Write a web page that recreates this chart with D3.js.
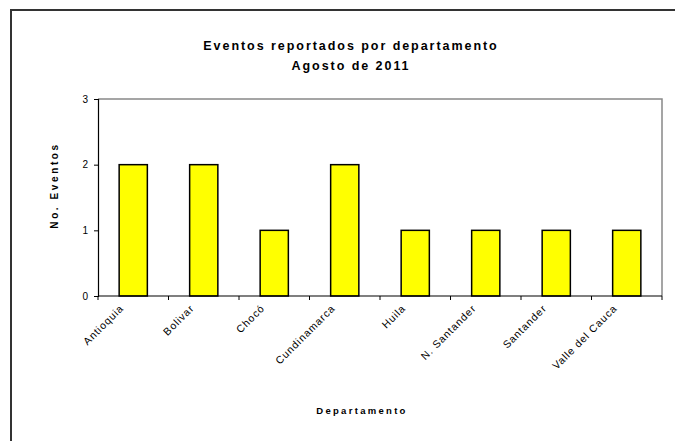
<!DOCTYPE html>
<html>
<head>
<meta charset="utf-8">
<script src="https://cdn.jsdelivr.net/npm/d3@7"></script>
<style>
  body { margin: 0; background: #fff; }
  text { font-family: "Liberation Sans", Arial, sans-serif; fill: #000; }
</style>
</head>
<body>
<svg id="chart" width="675" height="441"></svg>
<script>
// data
var departamentos = ["Antioquia", "Bolivar", "Chocó", "Cundinamarca", "Huila", "N. Santander", "Santander", "Valle del Cauca"];
var eventos = [2, 2, 1, 2, 1, 1, 1, 1];
var yTicks = [0, 1, 2, 3];
var titulo = ["Eventos reportados por departamento", "Agosto de 2011"];

var data = departamentos.map(function(d, i) { return {dep: d, n: eventos[i]}; });

var margin = {top: 99, right: 13, bottom: 145, left: 98},
    width = 675 - margin.left - margin.right,
    height = 441 - margin.top - margin.bottom;

var svg = d3.select("#chart");

// outer frame of the chart
svg.append("rect")
  .attr("x", 11).attr("y", 10)
  .attr("width", 700).attr("height", 500)
  .attr("fill", "none")
  .attr("stroke", "#333")
  .attr("stroke-width", 2);

// title
svg.append("text")
  .attr("text-anchor", "middle")
  .attr("font-weight", "bold")
  .attr("font-size", 12.5)
  .attr("letter-spacing", 1.95)
  .selectAll("tspan")
  .data(titulo)
  .enter().append("tspan")
    .attr("x", 351)
    .attr("y", function(d, i) { return 50 + i * 20; })
    .text(function(d) { return d; });

var g = svg.append("g")
  .attr("transform", "translate(" + margin.left + "," + margin.top + ")");

var x = d3.scaleBand()
  .domain(departamentos)
  .range([0, width])
  .paddingInner(0.6)
  .paddingOuter(0.3);

var y = d3.scaleLinear()
  .domain([0, 3])
  .range([height, 0]);

// gray plot frame (top and right)
g.append("path")
  .attr("d", "M0,0H" + width + "V" + height)
  .attr("fill", "none")
  .attr("stroke", "#888")
  .attr("stroke-width", 1.5);

// bars
g.selectAll("rect.bar")
  .data(data)
  .enter()
  .append("rect")
    .attr("class", "bar")
    .attr("x", function(d) { return x(d.dep); })
    .attr("y", function(d) { return y(d.n); })
    .attr("width", x.bandwidth())
    .attr("height", function(d) { return height - y(d.n); })
    .attr("fill", "#ffff00")
    .attr("stroke", "#000")
    .attr("stroke-width", 1.5);

// Y axis
var yAxis = g.append("g")
  .call(d3.axisLeft(y).tickValues(yTicks).tickFormat(d3.format("d")).tickSize(4).tickPadding(6));
yAxis.selectAll("text").attr("font-size", 10).attr("font-family", "Liberation Sans, Arial, sans-serif");
yAxis.select(".domain").attr("stroke-width", 1.2);

// X axis: ticks on category boundaries
var xAxis = g.append("g")
  .attr("transform", "translate(0," + height + ")");
xAxis.append("line")
  .attr("x1", 0).attr("x2", width)
  .attr("stroke", "#000").attr("stroke-width", 1.2);
xAxis.selectAll("line.tick")
  .data(d3.range(departamentos.length + 1))
  .enter().append("line")
    .attr("class", "tick")
    .attr("x1", function(i) { return i * width / departamentos.length; })
    .attr("x2", function(i) { return i * width / departamentos.length; })
    .attr("y1", 0).attr("y2", 4)
    .attr("stroke", "#000");

xAxis.selectAll("text.lab")
  .data(departamentos)
  .enter().append("text")
    .attr("class", "lab")
    .attr("text-anchor", "end")
    .attr("font-size", 10.5)
    .attr("letter-spacing", 0.9)
    .attr("transform", function(d) {
      return "translate(" + (x(d) + x.bandwidth() / 2 - 9) + ",13) rotate(-45)";
    })
    .text(function(d) { return d; });

// axis titles
g.append("text")
  .attr("text-anchor", "middle")
  .attr("font-weight", "bold")
  .attr("font-size", 10)
  .attr("letter-spacing", 2.6)
  .attr("transform", "translate(-40," + (height / 2 - 12) + ") rotate(-90)")
  .text("No. Eventos");

svg.append("text")
  .attr("text-anchor", "middle")
  .attr("font-weight", "bold")
  .attr("font-size", 9.5)
  .attr("letter-spacing", 2.3)
  .attr("x", 362)
  .attr("y", 414)
  .text("Departamento");
</script>
</body>
</html>
